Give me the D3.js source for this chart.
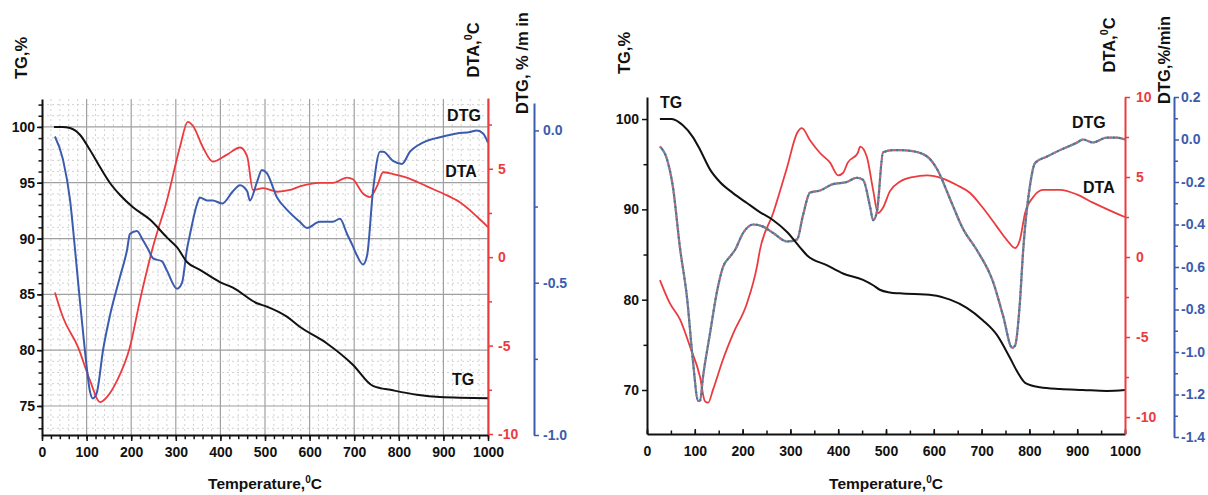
<!DOCTYPE html>
<html>
<head>
<meta charset="utf-8">
<script src="https://cdn.jsdelivr.net/npm/d3@7"></script>
<style>
    body { margin: 0; background: #fff; }
    svg text { font-family: "Liberation Sans", Arial, sans-serif; font-weight: bold; }
</style>
</head>
<body>
<svg id="chart" width="1208" height="495"></svg>
<script>
// [temperature, value] pairs
var leftTG = [[27, 100], [45, 100], [63, 99.9], [85, 99.3], [108, 97.9], [130, 96.4], [152, 95.0], [175, 93.9],
    [204, 92.8], [242, 91.7], [280, 90.1], [303, 89.2], [325, 87.9], [354, 87.2], [399, 86.1], [428, 85.6],
    [482, 84.2], [504, 83.9], [549, 83.0], [578, 82.1], [639, 80.6], [697, 78.7], [742, 76.8], [787, 76.4],
    [841, 76.0], [892, 75.8], [1000, 75.7]];
var leftDTA = [[29, -2.0], [47, -3.4], [81, -5.1], [108, -7.0], [130, -8.2], [146, -7.9], [168, -7.0], [197, -5.1],
    [220, -2.4], [249, 0.6], [280, 3.2], [309, 6.2], [327, 7.65], [339, 7.4], [361, 6.2], [383, 5.4], [415, 5.8],
    [444, 6.2], [460, 5.7], [473, 3.8], [496, 3.9], [527, 3.7], [556, 3.8], [578, 4.0], [623, 4.2], [652, 4.2],
    [684, 4.5], [697, 4.4], [720, 3.6], [735, 3.4], [751, 4.0], [765, 4.8], [787, 4.7], [818, 4.5], [863, 4.0],
    [899, 3.6], [937, 3.1], [975, 2.3], [1000, 1.7]];
var leftDTG = [[29, -0.02], [47, -0.095], [63, -0.23], [74, -0.39], [85, -0.56], [96, -0.72], [108, -0.86],
    [114, -0.88], [123, -0.86], [137, -0.72], [152, -0.61], [175, -0.48], [191, -0.39], [197, -0.34], [213, -0.33],
    [226, -0.36], [238, -0.39], [249, -0.42], [269, -0.43], [280, -0.46], [303, -0.52], [314, -0.50], [325, -0.39],
    [332, -0.34], [348, -0.24], [354, -0.22], [370, -0.23], [383, -0.23], [404, -0.24], [428, -0.20], [444, -0.18],
    [460, -0.20], [466, -0.23], [482, -0.17], [493, -0.13], [504, -0.14], [527, -0.22], [549, -0.26], [578, -0.30],
    [594, -0.32], [623, -0.30], [652, -0.30], [668, -0.29], [684, -0.34], [697, -0.38], [706, -0.41], [720, -0.44],
    [729, -0.41], [742, -0.20], [758, -0.07], [765, -0.07], [787, -0.10], [807, -0.11], [825, -0.07], [854, -0.04],
    [899, -0.02], [930, -0.01], [960, -0.005], [975, 0], [989, -0.01], [1000, -0.04]];

var rightTG = [[27, 100], [52, 100], [75, 99.3], [96, 98.0], [111, 96.6], [132, 94.4], [153, 93.0], [180, 91.8],
    [209, 90.7], [236, 89.7], [264, 88.8], [293, 87.5], [320, 85.8], [335, 84.9], [377, 83.8], [410, 82.9],
    [452, 82.2], [473, 81.6], [487, 81.1], [508, 80.8], [529, 80.7], [598, 80.5], [634, 80.0], [669, 79.1],
    [703, 77.7], [732, 76.1], [759, 73.6], [776, 71.9], [791, 70.8], [822, 70.3], [864, 70.1], [912, 70.0],
    [962, 69.9], [1000, 70.0]];
var rightDTA = [[27, -1.44], [48, -2.9], [69, -3.9], [90, -5.6], [111, -7.5], [121, -9.0], [128, -9.1], [138, -8.3],
    [159, -6.4], [180, -4.8], [209, -2.9], [230, -0.6], [236, 0.4], [264, 2.75], [293, 5.6], [314, 7.75], [324, 8.06],
    [341, 7.3], [362, 6.5], [383, 5.9], [400, 5.1], [410, 5.25], [420, 5.9], [441, 6.5], [446, 6.9], [460, 6.25],
    [473, 4.2], [483, 2.75], [494, 3.1], [508, 4.1], [529, 4.7], [556, 5.0], [586, 5.1], [619, 4.9], [648, 4.5],
    [676, 4.0], [703, 3.06], [732, 1.9], [753, 1.06], [770, 0.56], [780, 1.06], [791, 2.75], [808, 3.75], [828, 4.2],
    [864, 4.2], [900, 3.9], [933, 3.4], [969, 2.9], [1000, 2.5]];
var rightDTG = [[27, -0.033], [42, -0.094], [54, -0.22], [69, -0.51], [84, -0.75], [96, -1.04], [107, -1.23],
    [111, -1.23], [117, -1.12], [132, -0.91], [146, -0.72], [159, -0.60], [174, -0.55], [184, -0.52], [201, -0.44],
    [222, -0.40], [243, -0.41], [264, -0.44], [293, -0.48], [314, -0.47], [326, -0.36], [341, -0.25], [362, -0.24],
    [389, -0.21], [418, -0.20], [439, -0.18], [452, -0.19], [467, -0.32], [473, -0.38], [481, -0.34], [494, -0.06],
    [515, -0.05], [529, -0.05], [556, -0.055], [586, -0.08], [607, -0.14], [634, -0.28], [661, -0.42], [690, -0.52],
    [724, -0.67], [745, -0.83], [764, -0.98], [770, -0.97], [780, -0.77], [787, -0.52], [801, -0.22], [812, -0.11],
    [837, -0.08], [864, -0.05], [900, -0.014], [912, 0], [933, -0.014], [962, 0.009], [983, 0.009], [1000, 0]];

var tempTicks = d3.range(0, 1001, 100);
var leftTgTicks = [75, 80, 85, 90, 95, 100];
var leftDtaTicks = [-10, -5, 0, 5];
var leftDtgTicks = [-1.0, -0.5, 0.0];
var rightTgTicks = [70, 80, 90, 100];
var rightDtaTicks = [-10, -5, 0, 5, 10];
var rightDtgTicks = [-1.4, -1.2, -1.0, -0.8, -0.6, -0.4, -0.2, 0.0, 0.2];

var RED = '#ec3b3f', BLUE = '#3b5cae', BLACK = '#111';
var svg = d3.select('#chart');

// plain hyphen minus like the original figure
var fmtInt = function(d) { return String(d); };
var fmtOne = function(d) { return d.toFixed(1); };

function addText(g, x, y, parts, opts) {
    var t = g.append('text')
        .attr('x', x).attr('y', y)
        .attr('font-size', opts.size)
        .attr('fill', opts.color || BLACK)
        .attr('text-anchor', opts.anchor || 'middle');
    if (opts.rotate) {
        t.attr('transform', 'rotate(-90,' + x + ',' + y + ')');
    }
    parts.forEach(function(p) {
        if (p.sup) {
            t.append('tspan').attr('font-size', opts.size * 0.65).attr('dy', -opts.size * 0.4).text(p.sup);
        } else {
            t.append('tspan').attr('dy', p.after ? opts.size * 0.4 : 0).text(p.text);
        }
    });
    return t;
}

function styleAxis(a, color, size) {
    a.select('.domain').attr('stroke', color).attr('stroke-width', 2);
    a.selectAll('.tick line').attr('stroke', color).attr('stroke-width', 1.5);
    a.attr('font-family', null).attr('font-size', size);
    a.selectAll('.tick text').attr('fill', color);
}

function drawPanel(p) {
    var g = svg.append('g');
    var x = d3.scaleLinear().domain([0, 1000]).range([p.left, p.right]);
    var yTg = d3.scaleLinear().domain(p.tgDomain).range([p.bottom, p.top]);
    var yDta = d3.scaleLinear().domain(p.dtaDomain).range(p.dtaRange);
    var yDtg = d3.scaleLinear().domain(p.dtgDomain).range(p.dtgRange);

    if (p.grid) {
        var minorX = d3.range(20, 1001, 20).filter(function(d) { return d % 100 !== 0; });
        var minorY = d3.range(Math.ceil(p.tgDomain[0]), Math.floor(p.tgDomain[1]) + 1).filter(function(d) { return d % 5 !== 0; });
        var grid = g.append('g');
        grid.selectAll('line.mx').data(minorX).enter().append('line')
            .attr('x1', x).attr('x2', x).attr('y1', p.top).attr('y2', p.bottom)
            .attr('stroke', '#d2d2d2').attr('stroke-dasharray', '2,3');
        grid.selectAll('line.my').data(minorY).enter().append('line')
            .attr('x1', p.left).attr('x2', p.right).attr('y1', yTg).attr('y2', yTg)
            .attr('stroke', '#d2d2d2').attr('stroke-dasharray', '2,3');
        grid.selectAll('line.gx').data(tempTicks.slice(1)).enter().append('line')
            .attr('x1', x).attr('x2', x).attr('y1', p.top).attr('y2', p.bottom)
            .attr('stroke', '#a0a0a0').attr('stroke-width', 1.2);
        grid.selectAll('line.gy').data(p.tgTicks).enter().append('line')
            .attr('x1', p.left).attr('x2', p.right).attr('y1', yTg).attr('y2', yTg)
            .attr('stroke', '#a0a0a0').attr('stroke-width', 1.2);
    }

    var curve = d3.curveMonotoneX;
    var lineTg = d3.line().curve(curve).x(function(d) { return x(d[0]); }).y(function(d) { return yTg(d[1]); });
    var lineDta = d3.line().curve(curve).x(function(d) { return x(d[0]); }).y(function(d) { return yDta(d[1]); });
    var lineDtg = d3.line().curve(curve).x(function(d) { return x(d[0]); }).y(function(d) { return yDtg(d[1]); });

    g.append('path').datum(p.dta).attr('d', lineDta).attr('fill', 'none').attr('stroke', RED).attr('stroke-width', 1.8);
    if (p.dashedDtg) {
        // multi-coloured dashed trace
        g.append('path').datum(p.dtg).attr('d', lineDtg).attr('fill', 'none').attr('stroke', '#5a8a84').attr('stroke-width', 2.2);
        g.append('path').datum(p.dtg).attr('d', lineDtg).attr('fill', 'none').attr('stroke', '#d65f86')
            .attr('stroke-width', 2.2).attr('stroke-dasharray', '1.5,4.5');
        g.append('path').datum(p.dtg).attr('d', lineDtg).attr('fill', 'none').attr('stroke', '#5468b4')
            .attr('stroke-width', 2.2).attr('stroke-dasharray', '1.5,4.5').attr('stroke-dashoffset', 3);
    } else {
        g.append('path').datum(p.dtg).attr('d', lineDtg).attr('fill', 'none').attr('stroke', BLUE).attr('stroke-width', 2);
    }
    g.append('path').datum(p.tg).attr('d', lineTg).attr('fill', 'none').attr('stroke', BLACK).attr('stroke-width', 2);

    // x axis
    var xMinor = g.append('g').attr('transform', 'translate(0,' + p.bottom + ')')
        .call(d3.axisBottom(x).tickValues(d3.range(0, 1001, p.xMinorStep)).tickSize(p.xTick * 0.7).tickFormat(''));
    xMinor.select('.domain').remove();
    xMinor.selectAll('.tick line').attr('stroke', BLACK).attr('stroke-width', 1.5);
    var xAxis = g.append('g').attr('transform', 'translate(0,' + p.bottom + ')')
        .call(d3.axisBottom(x).tickValues(tempTicks).tickSizeInner(p.xTick).tickSizeOuter(0).tickPadding(p.xPad)
            .tickFormat(fmtInt));
    styleAxis(xAxis, BLACK, p.tickFont);

    // TG axis
    var tgMinor = g.append('g').attr('transform', 'translate(' + p.left + ',0)')
        .call(d3.axisLeft(yTg).tickValues(p.tgMinor).tickSize(3.5).tickFormat(''));
    tgMinor.select('.domain').remove();
    tgMinor.selectAll('.tick line').attr('stroke', BLACK).attr('stroke-width', 1.5);
    var tgAxis = g.append('g').attr('transform', 'translate(' + p.left + ',0)')
        .call(d3.axisLeft(yTg).tickValues(p.tgTicks).tickSizeInner(5).tickSizeOuter(0).tickPadding(p.tgPad)
            .tickFormat(fmtInt));
    styleAxis(tgAxis, BLACK, p.tickFont);

    // DTA axis
    var dtaMinor = g.append('g').attr('transform', 'translate(' + p.right + ',0)')
        .call(d3.axisRight(yDta).tickValues(p.dtaMinor).tickSize(4).tickFormat(''));
    dtaMinor.select('.domain').remove();
    dtaMinor.selectAll('.tick line').attr('stroke', RED).attr('stroke-width', 1.5);
    var dtaAxis = g.append('g').attr('transform', 'translate(' + p.right + ',0)')
        .call(d3.axisRight(yDta).tickValues(p.dtaTicks).tickSizeInner(5).tickSizeOuter(0).tickPadding(p.dtaPad)
            .tickFormat(fmtInt));
    styleAxis(dtaAxis, RED, p.tickFont);

    // DTG axis
    var dtgMinor = g.append('g').attr('transform', 'translate(' + p.dtgX + ',0)')
        .call(d3.axisRight(yDtg).tickValues(p.dtgMinor).tickSize(4).tickFormat(''));
    dtgMinor.select('.domain').remove();
    dtgMinor.selectAll('.tick line').attr('stroke', BLUE).attr('stroke-width', 1.5);
    var dtgAxis = g.append('g').attr('transform', 'translate(' + p.dtgX + ',0)')
        .call(d3.axisRight(yDtg).tickValues(p.dtgTicks).tickSizeInner(5).tickSizeOuter(0).tickPadding(p.dtgPad)
            .tickFormat(fmtOne));
    styleAxis(dtgAxis, BLUE, p.tickFont);

    // titles
    addText(g, (p.left + p.right) / 2, 489, [{ text: 'Temperature,' }, { sup: '0' }, { text: 'C', after: true }], { size: 15.5 });
    addText(g, p.tgTitle[0], p.tgTitle[1], [{ text: 'TG,%' }], { size: 16.5, rotate: true });
    addText(g, p.dtaTitle[0], p.dtaTitle[1], [{ text: 'DTA,' }, { sup: '0' }, { text: 'C', after: true }], { size: 16.5, rotate: true });
    addText(g, p.dtgTitle[0], p.dtgTitle[1], [{ text: p.dtgTitleText }], { size: 16.5, rotate: true });

    p.series.forEach(function(s) {
        addText(g, s[1], s[2], [{ text: s[0] }], { size: 16, anchor: s[3] });
    });
}

drawPanel({
    left: 42, right: 488, top: 99, bottom: 435,
    tg: leftTG, dta: leftDTA, dtg: leftDTG,
    tgDomain: [72.4, 102.5], tgTicks: leftTgTicks, tgMinor: d3.range(73, 103, 1),
    dtaDomain: [-10, 9], dtaRange: [434, 98], dtaTicks: leftDtaTicks, dtaMinor: [-7.5, -2.5, 2.5, 7.5],
    dtgDomain: [-1.0, 0.09], dtgRange: [435, 103], dtgTicks: leftDtgTicks, dtgMinor: [-0.75, -0.25],
    dtgX: 534, grid: true, dashedDtg: false,
    xMinorStep: 20, xTick: 6, xPad: 6, tgPad: 2, dtaPad: 5, dtgPad: 4, tickFont: 14,
    tgTitle: [27, 58], dtaTitle: [479, 50], dtgTitle: [528, 63], dtgTitleText: 'DTG, % /m in',
    series: [['DTG', 464, 121, 'middle'], ['DTA', 461, 177, 'middle'], ['TG', 463, 385, 'middle']]
});

drawPanel({
    left: 647, right: 1125, top: 97, bottom: 434,
    tg: rightTG, dta: rightDTA, dtg: rightDTG,
    tgDomain: [65.13, 102.44], tgTicks: rightTgTicks, tgMinor: [75, 85, 95],
    dtaDomain: [-11.06, 10], dtaRange: [434, 97], dtaTicks: rightDtaTicks, dtaMinor: d3.range(-7.5, 10, 5),
    dtgDomain: [-1.4, 0.2], dtgRange: [437, 97], dtgTicks: rightDtgTicks, dtgMinor: d3.range(-1.3, 0.2, 0.2),
    dtgX: 1174, grid: false, dashedDtg: true,
    xMinorStep: 50, xTick: -5, xPad: 12, tgPad: 3, dtaPad: 6, dtgPad: 2, tickFont: 14,
    tgTitle: [630, 53], dtaTitle: [1115, 45], dtgTitle: [1170, 60], dtgTitleText: 'DTG,%/min',
    series: [['TG', 660, 108, 'start'], ['DTG', 1072, 128, 'start'], ['DTA', 1083, 193, 'start']]
});
</script>
</body>
</html>
